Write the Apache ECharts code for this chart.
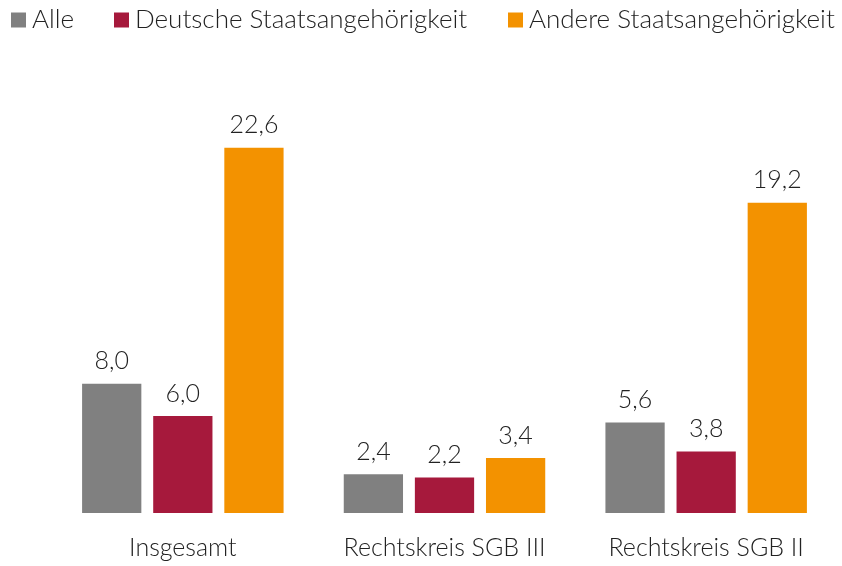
<!DOCTYPE html>
<html><head><meta charset="utf-8">
<script src="https://cdn.jsdelivr.net/npm/echarts@6/dist/echarts.min.js"></script>
<style>html,body{margin:0;padding:0;background:#fff}#c{width:842px;height:566px}</style>
</head><body><div id="c"></div>
<script>
const categories = ["Insgesamt", "Rechtskreis SGB III", "Rechtskreis SGB II"];
const seriesNames = ["Alle", "Deutsche Staatsangehörigkeit", "Andere Staatsangehörigkeit"];
const alle = [8.0, 2.4, 5.6];
const deutsche = [6.0, 2.2, 3.8];
const andere = [22.6, 3.4, 19.2];
const colors = ["#808080", "#A6193C", "#F39200"];
const font = "Lato";
const values = [alle, deutsche, andere];
const legendLefts = [11, 114, 508];
const chart = echarts.init(document.getElementById('c'));
chart.setOption({
  animation: false,
  textStyle: {fontFamily: font},
  legend: seriesNames.map((n, i) => ({
    left: legendLefts[i], top: 7, itemWidth: 15, itemHeight: 15, itemGap: 0,
    icon: 'rect', padding: 0,
    textStyle: {fontSize: 26, color: '#222', fontFamily: font, fontWeight: 300, padding: [0, 0, 0, 1]},
    data: [n]
  })),
  grid: {left: 52, right: 5, top: 109, bottom: 53},
  xAxis: {
    type: 'category', data: categories,
    axisLine: {show: false}, axisTick: {show: false},
    axisLabel: {interval: 0, hideOverlap: false, fontSize: 25, color: '#222', margin: 22, fontFamily: font, fontWeight: 300}
  },
  yAxis: {type: 'value', min: 0, max: 25, show: false, splitLine: {show: false}},
  series: values.map((v, i) => ({
    name: seriesNames[i], type: 'bar', data: v,
    barGap: '20%', barCategoryGap: '23%',
    itemStyle: {color: colors[i]},
    label: {
      show: true, position: 'top', distance: 10,
      fontSize: 25, color: '#222', fontFamily: font, fontWeight: 300,
      formatter: p => p.value.toFixed(1).replace('.', ',')
    }
  }))
});
</script></body></html>
